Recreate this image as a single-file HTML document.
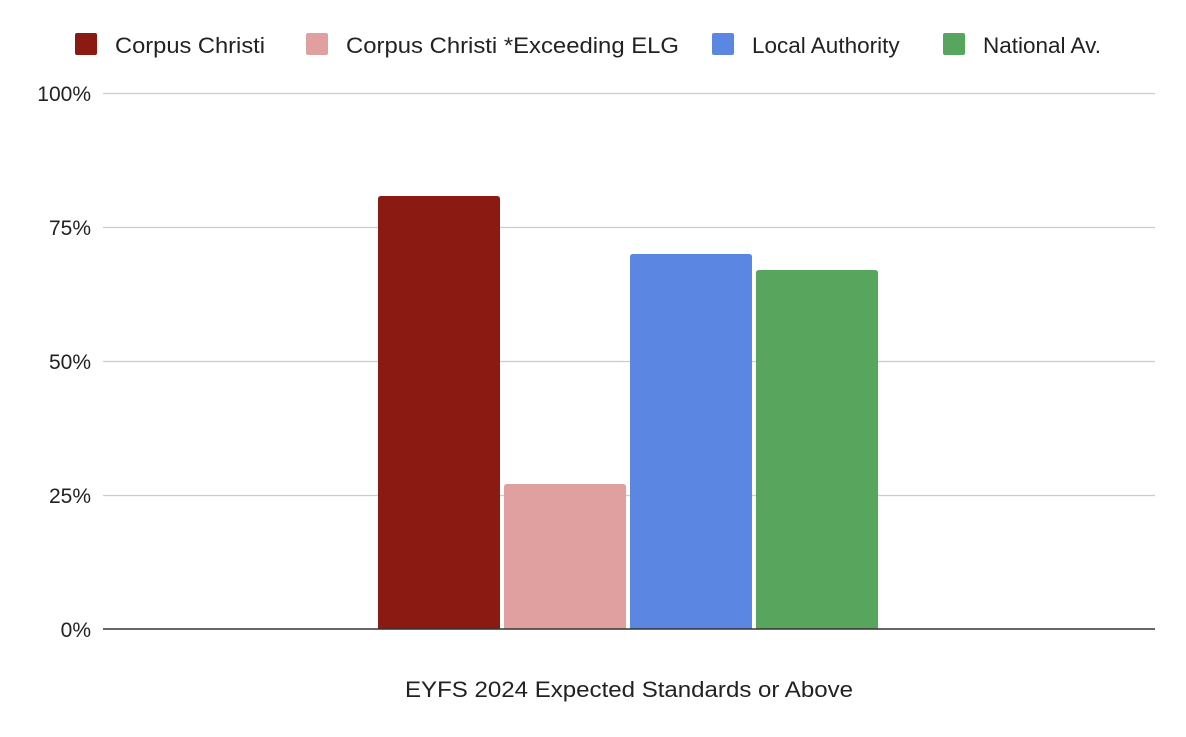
<!DOCTYPE html>
<html><head><style>
body{margin:0;background:#fff;}
svg text{font-family:"Liberation Sans",Arial,sans-serif;fill:#222;}
</style></head><body>
<svg width="1186" height="732" xmlns="http://www.w3.org/2000/svg">
<rect width="1186" height="732" fill="#fff"/>
<g stroke="#ccc" stroke-width="1.3">
<line x1="103" x2="1155" y1="93.5" y2="93.5"/>
<line x1="103" x2="1155" y1="227.5" y2="227.5"/>
<line x1="103" x2="1155" y1="361.5" y2="361.5"/>
<line x1="103" x2="1155" y1="495.5" y2="495.5"/>
</g>
<g font-size="21" text-anchor="end">
<text x="91" y="101">100%</text>
<text x="91" y="235">75%</text>
<text x="91" y="369">50%</text>
<text x="91" y="503">25%</text>
<text x="91" y="637">0%</text>
</g>
<path d="M378 629 V199 q0-3 3-3 h116 q3 0 3 3 V629Z" fill="#8b1a12"/>
<path d="M504 629 V487 q0-3 3-3 h116 q3 0 3 3 V629Z" fill="#e0a09f"/>
<path d="M630 629 V257 q0-3 3-3 h116 q3 0 3 3 V629Z" fill="#5b87e2"/>
<path d="M756 629 V273 q0-3 3-3 h116 q3 0 3 3 V629Z" fill="#58a65e"/>
<line x1="103" x2="1155" y1="629" y2="629" stroke="#333" stroke-width="1.5"/>
<text x="629" y="697" font-size="22.5" text-anchor="middle" textLength="448" lengthAdjust="spacingAndGlyphs">EYFS 2024 Expected Standards or Above</text>
<g font-size="22.5">
<rect x="75" y="33" width="22" height="22" rx="2" fill="#8b1a12"/>
<text x="115" y="53" textLength="150" lengthAdjust="spacingAndGlyphs">Corpus Christi</text>
<rect x="306" y="33" width="22" height="22" rx="2" fill="#e0a09f"/>
<text x="346" y="53" textLength="333" lengthAdjust="spacingAndGlyphs">Corpus Christi *Exceeding ELG</text>
<rect x="712" y="33" width="22" height="22" rx="2" fill="#5b87e2"/>
<text x="752" y="53">Local Authority</text>
<rect x="943" y="33" width="22" height="22" rx="2" fill="#58a65e"/>
<text x="983" y="53">National Av.</text>
</g>
</svg>
</body></html>
